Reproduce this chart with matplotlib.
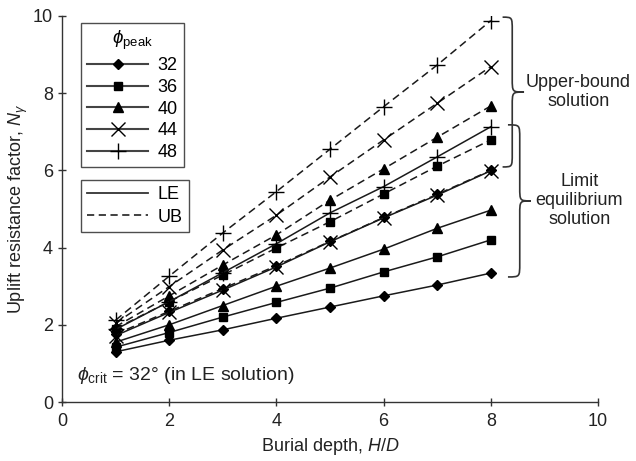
import matplotlib
matplotlib.use("Agg")
import matplotlib.pyplot as plt
from matplotlib.path import Path
from matplotlib.patches import PathPatch
from matplotlib.lines import Line2D

plt.rcParams['font.family'] = ['Liberation Sans', 'DejaVu Sans']
plt.rcParams['mathtext.fontset'] = 'custom'
plt.rcParams['mathtext.rm'] = 'Liberation Sans'
plt.rcParams['mathtext.it'] = 'Liberation Sans:italic'
plt.rcParams['mathtext.cal'] = 'Liberation Sans'

depth = [1, 2, 3, 4, 5, 6, 7, 8]
phi_peak = ['32', '36', '40', '44', '48']
markers = ['D', 's', '^', 'x', '+']
msizes = [5, 5.5, 6.5, 10, 11]

le = {
    '32': [1.30, 1.60, 1.87, 2.17, 2.46, 2.75, 3.03, 3.34],
    '36': [1.42, 1.80, 2.20, 2.58, 2.95, 3.37, 3.76, 4.20],
    '40': [1.55, 2.00, 2.50, 3.00, 3.47, 3.96, 4.50, 4.97],
    '44': [1.72, 2.32, 2.90, 3.50, 4.15, 4.77, 5.36, 5.99],
    '48': [1.88, 2.60, 3.35, 4.10, 4.90, 5.58, 6.35, 7.13],
}
ub = {
    '32': [1.76, 2.35, 2.94, 3.53, 4.16, 4.78, 5.38, 6.00],
    '36': [1.90, 2.60, 3.29, 3.99, 4.67, 5.39, 6.11, 6.79],
    '40': [1.95, 2.75, 3.55, 4.33, 5.23, 6.04, 6.86, 7.67],
    '44': [2.04, 2.99, 3.94, 4.84, 5.83, 6.79, 7.74, 8.69],
    '48': [2.12, 3.26, 4.38, 5.45, 6.55, 7.65, 8.73, 9.88],
}

fig = plt.figure(figsize=(6.36, 4.61), dpi=100)
ax = fig.add_axes([62/636, 1-402/461, 536/636, 386/461])

lc = '#1a1a1a'
for p, m, ms in zip(phi_peak, markers, msizes):
    ax.plot(depth, le[p], color=lc, lw=1.1, ls='-', marker=m, ms=ms,
            mfc='black', mec='black', mew=1.0, zorder=3)
    ax.plot(depth, ub[p], color=lc, lw=1.1, ls=(0, (5, 3)), marker=m, ms=ms,
            mfc='black', mec='black', mew=1.0, zorder=3)

ax.set_xlim(0, 10)
ax.set_ylim(0, 10)
ax.set_xticks([0, 2, 4, 6, 8, 10])
ax.set_yticks([0, 2, 4, 6, 8, 10])
for s in ['top', 'right']:
    ax.spines[s].set_visible(False)
for s in ['left', 'bottom']:
    ax.spines[s].set_linewidth(1.0)
    ax.spines[s].set_color('#333333')
ax.tick_params(axis='both', direction='inout', length=6, width=1.0,
               labelsize=13, color='#333333', labelcolor='#222222')
ax.tick_params(axis='x', pad=5)

ax.set_xlabel(r'Burial depth, $\mathit{H/D}$', fontsize=13, color='#222222', labelpad=4)
ax.set_ylabel(r'Uplift resistance factor, $\mathit{N}_{\gamma}$', fontsize=13,
              color='#222222', labelpad=2)

# legend 1: phi_peak
h1 = [Line2D([], [], color='#444444', lw=1.5, marker=m, ms=ms, mfc='black',
             mec='black') for m, ms in zip(markers, msizes)]
leg1 = ax.legend(h1, phi_peak, title=r'$\phi_{\mathrm{peak}}$', loc='upper left',
                 bbox_to_anchor=(0.035, 0.982), fontsize=13, title_fontsize=13.5,
                 frameon=True, fancybox=False, edgecolor='#222222',
                 handlelength=3.4, handletextpad=0.5, labelspacing=0.26,
                 borderpad=0.35, borderaxespad=0)
leg1.get_frame().set_linewidth(1.0)
ax.add_artist(leg1)

h2 = [Line2D([], [], color='#333333', lw=1.3, ls='-'),
      Line2D([], [], color='#333333', lw=1.3, ls=(0, (4, 2.5)))]
leg2 = ax.legend(h2, ['LE', 'UB'], loc='upper left', bbox_to_anchor=(0.035, 0.575),
                 fontsize=13, frameon=True, fancybox=False, edgecolor='#222222',
                 handlelength=3.4, handletextpad=0.5, labelspacing=0.3,
                 borderpad=0.35, borderaxespad=0)
leg2.get_frame().set_linewidth(1.0)


def brace(ax, x0, x1, xt, ytop, ybot):
    ymid = (ytop + ybot) / 2
    r = 0.35
    verts = [
        (x0, ytop), (x1, ytop), (x1, ytop), (x1, ytop - r),
        (x1, ymid + r),
        (x1, ymid), (x1, ymid), (xt, ymid),
        (x1, ymid), (x1, ymid), (x1, ymid - r),
        (x1, ybot + r),
        (x1, ybot), (x1, ybot), (x0, ybot),
    ]
    codes = [Path.MOVETO, Path.CURVE4, Path.CURVE4, Path.CURVE4,
             Path.LINETO,
             Path.CURVE4, Path.CURVE4, Path.CURVE4,
             Path.CURVE4, Path.CURVE4, Path.CURVE4,
             Path.LINETO,
             Path.CURVE4, Path.CURVE4, Path.CURVE4]
    patch = PathPatch(Path(verts, codes), fill=False, lw=1.2, ec='#333333',
                      clip_on=False)
    ax.add_patch(patch)


brace(ax, 8.22, 8.40, 8.62, 9.97, 6.09)
brace(ax, 8.32, 8.54, 8.75, 7.18, 3.24)

ax.text(9.63, 8.03, 'Upper-bound\nsolution', ha='center', va='center',
        fontsize=13, color='#222222', linespacing=1.15)
ax.text(9.65, 5.23, 'Limit\nequilibrium\nsolution', ha='center', va='center',
        fontsize=13, color='#222222', linespacing=1.15)

ax.text(0.28, 0.68, r'$\phi_{\mathrm{crit}}$ = 32° (in LE solution)', ha='left',
        va='center', fontsize=14, color='#222222')

fig.savefig('out.png', dpi=100)
